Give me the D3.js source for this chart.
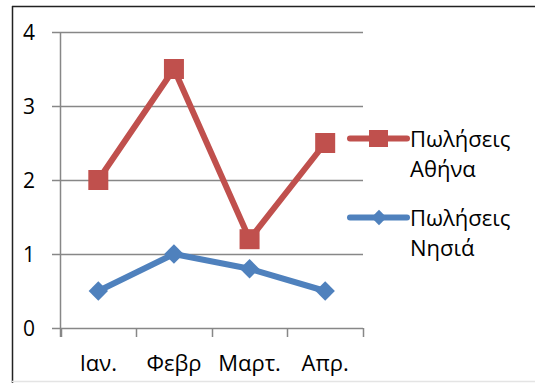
<!DOCTYPE html>
<html>
<head>
<meta charset="utf-8">
<script src="https://d3js.org/d3.v7.min.js"></script>
<style>
  body { margin: 0; background: #fff; }
  text { font-family: "Open Sans", sans-serif; fill: #000; }
</style>
</head>
<body>
<svg id="canvas"></svg>
<script>
var months = ["Ιαν.", "Φεβρ", "Μαρτ.", "Απρ."];
var athens = [2, 3.5, 1.2, 2.5];
var islands = [0.5, 1, 0.8, 0.5];
var yTicks = [0, 1, 2, 3, 4];
var seriesNames = [["Πωλήσεις", "Αθήνα"], ["Πωλήσεις", "Νησιά"]];

var width = 535, height = 383;
var red = "#C0504D", blue = "#4F81BD", grid = "#878787";

var svg = d3.select("#canvas")
    .attr("width", width)
    .attr("height", height);

// frame
svg.append("line") // top
    .attr("x1", 12).attr("x2", width).attr("y1", 6.5).attr("y2", 6.5)
    .style("stroke", "#222").style("stroke-width", 1.5);
svg.append("line") // left
    .attr("x1", 12.5).attr("x2", 12.5).attr("y1", 6).attr("y2", height)
    .style("stroke", "#222").style("stroke-width", 1.5);
svg.append("line") // bottom
    .attr("x1", 12).attr("x2", width).attr("y1", 381.5).attr("y2", 381.5)
    .style("stroke", "#e4e4e4").style("stroke-width", 1.5);

var x = d3.scaleBand().domain(months).range([60.5, 363]);
var y = d3.scaleLinear().domain([0, 4]).range([328, 32]);

// gridlines + y ticks
svg.append("g").selectAll("line")
  .data(yTicks)
  .enter().append("line")
    .attr("x1", 52).attr("x2", 363)
    .attr("y1", function(d) { return Math.round(y(d)) + 0.5; })
    .attr("y2", function(d) { return Math.round(y(d)) + 0.5; })
    .style("stroke", grid).style("stroke-width", 1.5);

// y axis line
svg.append("line")
    .attr("x1", 60.5).attr("x2", 60.5).attr("y1", y(4)).attr("y2", 337)
    .style("stroke", grid).style("stroke-width", 1.5);

// x ticks (category boundaries)
var bounds = months.map(function(m) { return x(m); }).concat([x.range()[1]]);
svg.append("g").selectAll("line")
  .data(bounds)
  .enter().append("line")
    .attr("x1", function(d) { return Math.round(d) + 0.5; })
    .attr("x2", function(d) { return Math.round(d) + 0.5; })
    .attr("y1", y(0)).attr("y2", 337)
    .style("stroke", grid).style("stroke-width", 1.5);

// y labels
svg.append("g").selectAll("text")
  .data(yTicks)
  .enter().append("text")
    .text(function(d) { return d; })
    .attr("x", 35)
    .attr("y", function(d) { return y(d) + 7.5; })
    .attr("text-anchor", "end")
    .style("font-size", "21px");

// x labels
svg.append("g").selectAll("text")
  .data(months)
  .enter().append("text")
    .text(function(d) { return d; })
    .attr("x", function(d) { return x(d) + x.bandwidth() / 2; })
    .attr("y", 371)
    .attr("text-anchor", "middle")
    .style("font-size", "22px");

var line = d3.line()
    .x(function(d, i) { return x(months[i]) + x.bandwidth() / 2; })
    .y(function(d) { return y(d); });

// islands (blue, diamonds)
svg.append("path")
    .attr("d", line(islands))
    .style("fill", "none").style("stroke", blue)
    .style("stroke-width", 6).style("stroke-linejoin", "round");
svg.append("g").selectAll("path")
  .data(islands)
  .enter().append("path")
    .attr("d", d3.symbol().type(d3.symbolDiamond2).size(240))
    .attr("transform", function(d, i) {
      return "translate(" + (x(months[i]) + x.bandwidth() / 2) + "," + y(d) + ")";
    })
    .style("fill", blue);

// athens (red, squares)
svg.append("path")
    .attr("d", line(athens))
    .style("fill", "none").style("stroke", red)
    .style("stroke-width", 6).style("stroke-linejoin", "round");
svg.append("g").selectAll("rect")
  .data(athens)
  .enter().append("rect")
    .attr("width", 20).attr("height", 20)
    .attr("x", function(d, i) { return x(months[i]) + x.bandwidth() / 2 - 10; })
    .attr("y", function(d) { return y(d) - 10; })
    .style("fill", red);

// legend
var legendY = [138.5, 217.5];
var legendColors = [red, blue];
var legend = svg.append("g");
for (var i = 0; i < 2; i++) {
  legend.append("line")
    .attr("x1", 350).attr("x2", 407)
    .attr("y1", legendY[i]).attr("y2", legendY[i])
    .style("stroke", legendColors[i]).style("stroke-width", 6)
    .style("stroke-linecap", "round");
  if (i == 0) {
    legend.append("rect")
      .attr("x", 369).attr("y", legendY[i] - 8.5)
      .attr("width", 19).attr("height", 17)
      .style("fill", red);
  } else {
    legend.append("path")
      .attr("d", d3.symbol().type(d3.symbolDiamond2).size(150))
      .attr("transform", "translate(379," + legendY[i] + ")")
      .style("fill", blue);
  }
  legend.append("text").text(seriesNames[i][0])
    .attr("x", 410).attr("y", legendY[i] + 8.5)
    .style("font-size", "22px");
  legend.append("text").text(seriesNames[i][1])
    .attr("x", 410).attr("y", legendY[i] + 38.5)
    .style("font-size", "22px");
}
</script>
</body>
</html>
